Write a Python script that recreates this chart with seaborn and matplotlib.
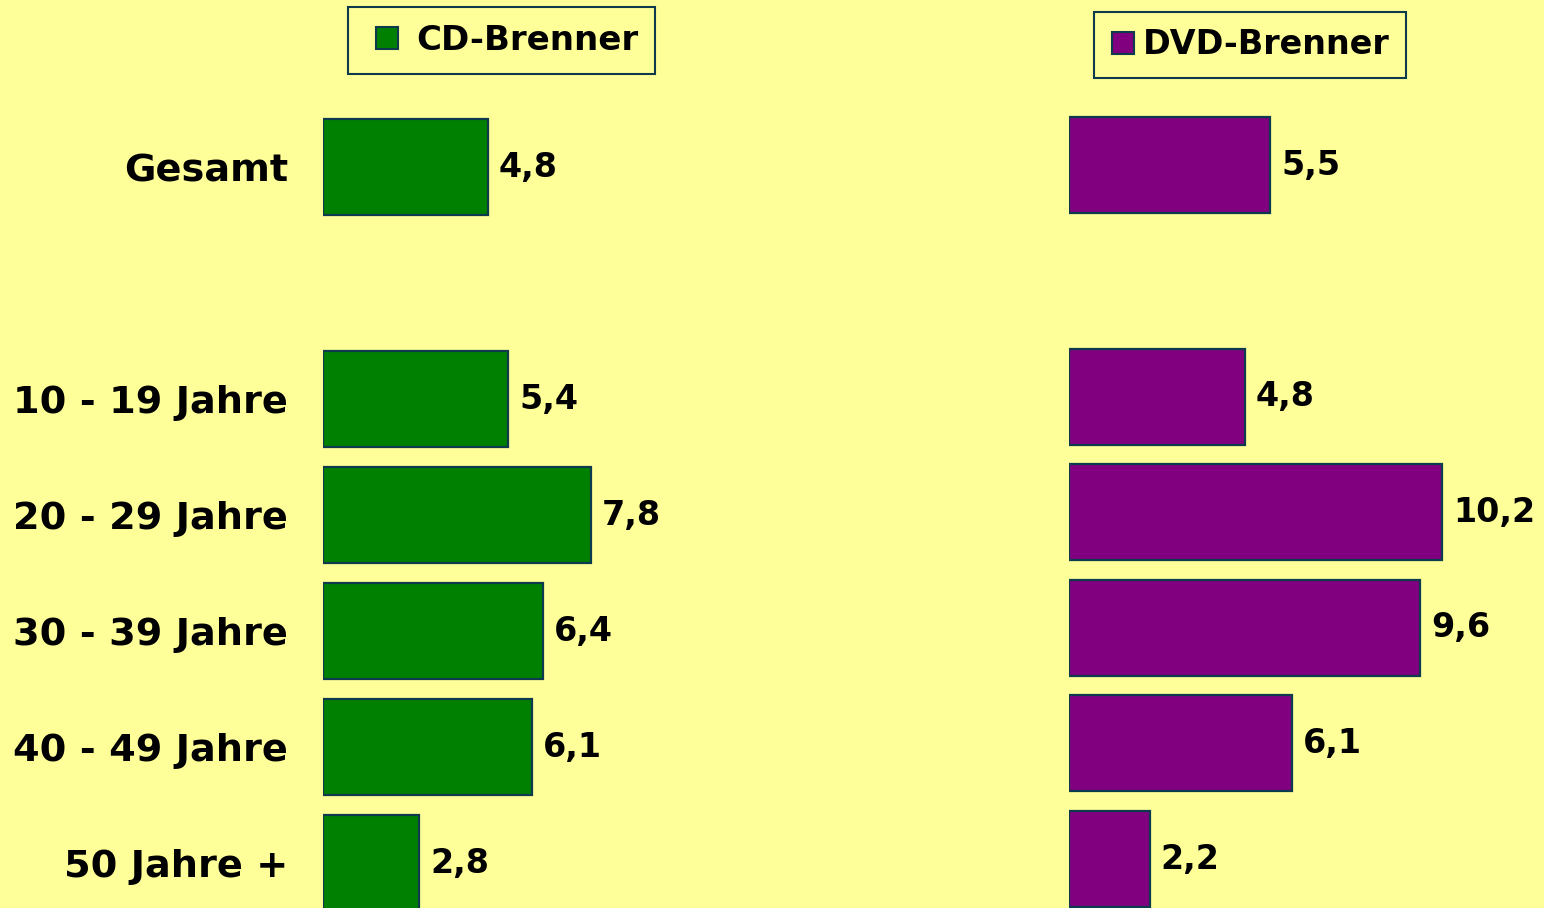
import pandas as pd
import numpy as np
import matplotlib
matplotlib.use("Agg")
import matplotlib.pyplot as plt
from matplotlib.lines import Line2D
import seaborn as sns

# data
groups = ["Gesamt", "10 - 19 Jahre", "20 - 29 Jahre", "30 - 39 Jahre", "40 - 49 Jahre", "50 Jahre +"]
order = ["Gesamt", "", "10 - 19 Jahre", "20 - 29 Jahre", "30 - 39 Jahre", "40 - 49 Jahre", "50 Jahre +"]
cd_werte = [4.8, 5.4, 7.8, 6.4, 6.1, 2.8]
dvd_werte = [5.5, 4.8, 10.2, 9.6, 6.1, 2.2]

bg = "#FFFF99"
edge = "#0E3A4E"

sns.set_style("white")
plt.rcParams["font.family"] = ["DejaVu Sans"]
plt.rcParams["font.weight"] = "bold"
plt.rcParams["text.color"] = "black"
plt.rcParams["ytick.color"] = "black"

df_cd = pd.DataFrame({"Gruppe": groups, "Wert": cd_werte})
df_dvd = pd.DataFrame({"Gruppe": groups, "Wert": dvd_werte})

W, H = 1544, 908
fig = plt.figure(figsize=(W / 100, H / 100), dpi=100, facecolor=bg)
XMAX = 11

def make_ax(x0, px_per_unit, c0, pitch):
    ax = fig.add_axes([x0 / W, 0, XMAX * px_per_unit / W, 1])
    ax.set_facecolor("none")
    return ax, (H - c0) / pitch, -c0 / pitch

ax1, b1, t1 = make_ax(323, 34.3, 167, 116)
ax2, b2, t2 = make_ax(1069, 36.6, 165.5, 115.6)

sns.barplot(data=df_cd, x="Wert", y="Gruppe", order=order, color="#008000",
            edgecolor=edge, linewidth=1.6, width=96 / 116, saturation=1, ax=ax1)
sns.barplot(data=df_dvd, x="Wert", y="Gruppe", order=order, color="#800080",
            edgecolor=edge, linewidth=1.6, width=96 / 115.6, saturation=1, ax=ax2)

for ax, werte, b, t in [(ax1, cd_werte, b1, t1), (ax2, dvd_werte, b2, t2)]:
    ax.set_xlim(0, XMAX)
    ax.set_ylim(b, t)
    ax.bar_label(ax.containers[0], labels=[f"{v:.1f}".replace(".", ",") for v in werte],
                 padding=8, fontsize=24, fontweight="bold", color="black")
    ax.set_xlabel("")
    ax.set_ylabel("")
    ax.set_xticks([])
    sns.despine(ax=ax, left=True, bottom=True)

ax1.tick_params(axis="y", length=0, pad=25, labelsize=27.5, labelcolor="black")
for lab in ax1.get_yticklabels():
    lab.set_fontweight("bold")
ax2.set_yticks([])

# legends
for ax, name, farbe, cx, cy, fs, hl in [(ax1, "CD-Brenner", "#008000", 501.5, 40.5, 24.5, 1.3),
                                        (ax2, "DVD-Brenner", "#800080", 1250, 45, 24, 0.75)]:
    h = Line2D([], [], linestyle="none", marker="s", markersize=16,
               markerfacecolor=farbe, markeredgecolor=edge, markeredgewidth=1.5)
    leg = ax.legend([h], [name], loc="center", bbox_to_anchor=(cx / W, 1 - cy / H),
                    bbox_transform=fig.transFigure, fontsize=fs,
                    handlelength=hl, handletextpad=0.2,
                    borderpad=0.5, borderaxespad=0, fancybox=False,
                    facecolor=bg, edgecolor=edge, framealpha=1)
    leg.get_frame().set_linewidth(1.5)
    for txt in leg.get_texts():
        txt.set_fontweight("bold")
        txt.set_color("black")

plt.savefig("out.png", dpi=100, facecolor=bg)
